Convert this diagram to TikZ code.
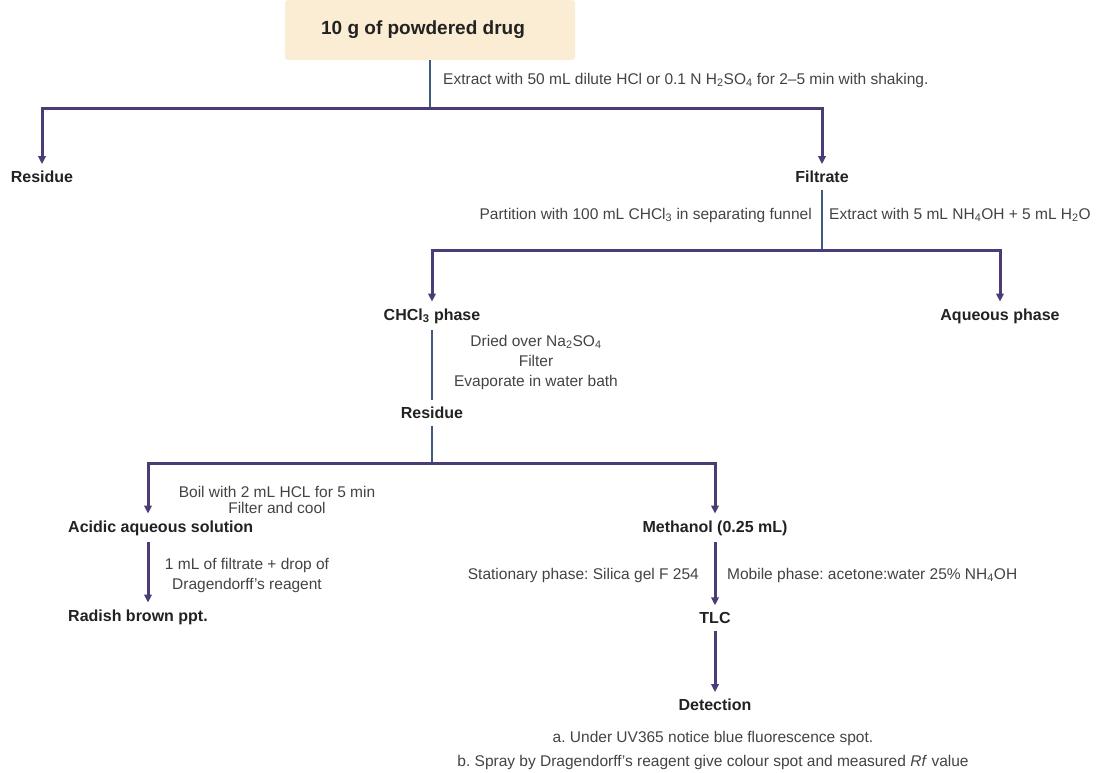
\documentclass[tikz,border=0pt]{standalone}
\usepackage{fontspec}
\setmainfont{Liberation Sans}
\usetikzlibrary{arrows.meta}
\frenchspacing
\definecolor{barcol}{RGB}{76,60,118}
\definecolor{stemcol}{RGB}{62,92,128}
\definecolor{boxcol}{RGB}{251,236,212}
\definecolor{txtcol}{RGB}{34,34,34}
\tikzset{
  lab/.style={font=\fontsize{16}{19}\selectfont\bfseries, text=txtcol, inner sep=1pt, outer ysep=6pt},
  note/.style={font=\fontsize{15.5}{20}\selectfont, text=txtcol!85, inner sep=1pt, align=center},
  bar/.style={draw=barcol, line width=3pt},
  arr/.style={bar, -{Triangle[length=8pt,width=7.5pt]}},
  stem/.style={draw=stemcol, line width=1.2pt},
}
\begin{document}
\begin{tikzpicture}[x=1pt,y=-1pt]
\useasboundingbox (0,0) rectangle (1108,772);

\node[fill=boxcol, rounded corners=3pt, minimum width=290pt, minimum height=60pt, font=\fontsize{19}{22}\selectfont\bfseries, text=txtcol] (drug) at (430,30) {10 g of powdered drug\hspace*{14pt}};
\node[lab] (res1) at (42,177) {Residue};
\node[lab] (filt) at (822,177) {Filtrate};
\node[lab] (chcl) at (432,316) {CHCl\textsubscript{3} phase};
\node[lab] (aq) at (1000,316) {Aqueous phase};
\node[lab] (res2) at (432,413) {Residue};
\node[lab, anchor=west] (acid) at (67,528) {Acidic aqueous solution};
\node[lab] (meth) at (715,528) {Methanol (0.25 mL)};
\node[lab, anchor=west] (rad) at (67,617) {Radish brown ppt.};
\node[lab] (tlc) at (715,618) {TLC};
\node[lab] (det) at (715,705) {Detection};

\node[note, anchor=west] (ext1) at (442,80) {Extract with 50 mL dilute HCl or 0.1 N H\textsubscript{2}SO\textsubscript{4} for 2--5 min with shaking.};
\node[note, anchor=east] (part) at (813,215) {Partition with 100 mL CHCl\textsubscript{3} in separating funnel};
\node[note, anchor=west] (ext2) at (828,215) {Extract with 5 mL NH\textsubscript{4}OH + 5 mL H\textsubscript{2}O};
\node[note] (dry) at (536,362) {Dried over Na\textsubscript{2}SO\textsubscript{4}\\Filter\\Evaporate in water bath};
\node[note, font=\fontsize{15.5}{16.5}\selectfont] (boil) at (277,500) {Boil with 2 mL HCL for 5 min\\Filter and cool};
\node[note] (drop) at (247,575) {1 mL of filtrate + drop of\\Dragendorff's reagent};
\node[note, anchor=east] (stat) at (700,575) {Stationary phase: Silica gel F 254};
\node[note, anchor=west] (mob) at (726,575) {Mobile phase: acetone:water 25\% NH\textsubscript{4}OH};
\node[note, font=\fontsize{15.5}{24}\selectfont] (spot) at (713,750) {a. Under UV365 notice blue fluorescence spot.\\b. Spray by Dragendorff's reagent give colour spot and measured \emph{Rf} value};

\coordinate (j1) at (430,108);
\coordinate (j2) at (822,250);
\coordinate (j3) at (432,463);
\coordinate (a3) at (148,463);

\draw[stem] (drug.south) -- (j1);
\draw[arr] (j1) -| (res1.north);
\draw[arr] (j1) -| (filt.north);
\draw[stem] (filt.south) -- (j2);
\draw[arr] (j2) -| (chcl.north);
\draw[arr] (j2) -| (aq.north);
\draw[stem] (chcl.south) -- (res2.north);
\draw[stem] (res2.south) -- (j3);
\draw[arr] (j3) -| (a3 |- acid.north);
\draw[arr] (j3) -| (meth.north);
\draw[arr] (a3 |- acid.south) -- (a3 |- rad.north);
\draw[arr] (meth.south) -- (tlc.north);
\draw[arr] (tlc.south) -- (det.north);
\end{tikzpicture}
\end{document}
